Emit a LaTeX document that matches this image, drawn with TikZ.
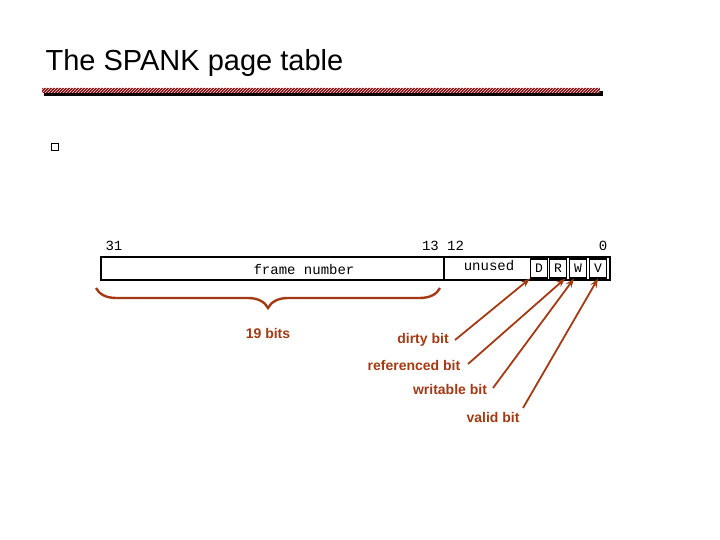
\documentclass[tikz,border=0pt]{standalone}
\usepackage{fontspec}
\setmainfont{Liberation Sans}
\newfontfamily\monof{Liberation Mono}
\usetikzlibrary{patterns,decorations.pathreplacing,arrows.meta}
\definecolor{rust}{HTML}{A33A14}
\definecolor{bar}{HTML}{7A1414}
\begin{document}
\begin{tikzpicture}[x=1pt,y=-1pt,
  lbl/.style={text=rust,font=\bfseries\fontsize{14}{16}\selectfont},
  num/.style={font=\monof\fontsize{14}{16}\selectfont},
  bit/.style={draw,line width=1.2pt,minimum width=17pt,minimum height=19pt,inner sep=0pt,font=\monof\fontsize{13}{15}\selectfont},
  arr/.style={rust,line width=1.8pt,-{Stealth[length=9pt]}}]
\useasboundingbox (0,0) rectangle (720,540);
\node[anchor=base west,font=\fontsize{29}{32}\selectfont] (title) at (42,71) {The SPANK page table};
\fill[black] (44,91) rectangle (603,96);
\fill[bar] (42,88) rectangle (600,93);
\fill[pattern=north east lines,pattern color=white!80!red] (42,88) rectangle (600,93);
\node[draw,line width=0.8pt,minimum size=7pt,inner sep=0pt] (sq) at (55,147) {};
\draw[line width=2.4pt] (101,257) rectangle (610,280);
\draw[line width=2.4pt] (444,257) -- (444,280);
\node[num] (fn) at (304,269) {frame number};
\node[num] (un) at (489,266) {unused};
\node[bit] (D) at (539,268.5) {D};
\node[bit] (R) at (558,268.5) {R};
\node[bit] (W) at (578,268.5) {W};
\node[bit] (V) at (598,268.5) {V};
\node[num] (b31) at (114,246) {31};
\node[num] (b13) at (443,246) {13 12};
\node[num] (b0) at (603,246) {0};
\draw[rust,line width=2.4pt,decorate,decoration={brace,mirror,amplitude=20pt}] (96,288) -- (440,288);
\node[lbl] (nb) at (268,333) {19 bits};
\node[lbl] (dirty) at (423,340) {dirty bit};
\node[lbl] (ref) at (414,365) {referenced bit};
\node[lbl] (wr) at (450,389) {writable bit};
\node[lbl] (val) at (493,417) {valid bit};
\coordinate (d1) at (455,340); \coordinate (r1) at (468,364);
\coordinate (w1) at (493,388); \coordinate (v1) at (523,408);
\draw[arr] (d1) -- (D.south west);
\draw[arr] (r1) -- ([xshift=-2pt]R.south east);
\draw[arr] (w1) -- ([xshift=-4pt]W.south);
\draw[arr] (v1) -- (V.south);
\end{tikzpicture}
\end{document}
